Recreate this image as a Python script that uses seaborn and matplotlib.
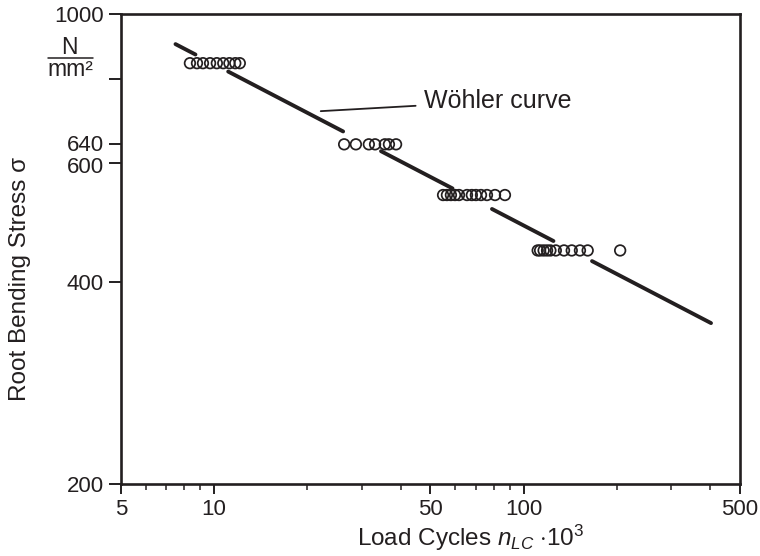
import numpy as np
import pandas as pd
import matplotlib
matplotlib.use("Agg")
import matplotlib.pyplot as plt
import matplotlib.transforms as mtransforms
import seaborn as sns
from matplotlib.ticker import FixedLocator, NullFormatter, FixedFormatter

sns.set_theme(style="white")
plt.rcParams['font.family'] = ['Liberation Sans', 'DejaVu Sans']
plt.rcParams['mathtext.fontset'] = 'custom'
plt.rcParams['mathtext.it'] = 'Liberation Sans:italic'
plt.rcParams['mathtext.rm'] = 'Liberation Sans'

# ---- data (load cycles in 10^3, stress in N/mm^2) ----
stress_levels = [845, 640, 538, 445]
cycles_845 = [8.35, 8.8, 9.2, 9.7, 10.2, 10.7, 11.2, 11.7, 12.1]
cycles_640 = [26.3, 28.7, 31.6, 33.1, 35.6, 36.7, 38.7]
cycles_538 = [54.9, 56.5, 58.2, 60.0, 61.8, 65.6, 68.0, 70.1, 72.8, 76.1, 80.8, 87.0]
cycles_445 = [111, 113, 116, 119, 122, 127, 135, 143, 152, 161, 205]

# Wöhler curve end points and the gaps where the curve is interrupted by the points
curve_cycles = [7.5, 403]
curve_stress = [902, 347]
curve_gaps = [(8.7, 11.1), (26.1, 34.6), (58.9, 79.0), (124.8, 166.3)]

x_major = [5, 10, 50, 100, 500]
x_minor = [6, 7, 8, 9, 20, 30, 40, 60, 70, 80, 90, 200, 300, 400]
y_ticks = [200, 400, 600, 640, 800, 1000]
y_labels = ['200', '400', '600', '640', '', '1000']

INK = '#231f20'

# ---- build tables ----
pts = pd.DataFrame({
    'cycles': cycles_845 + cycles_640 + cycles_538 + cycles_445,
    'stress': ([stress_levels[0]] * len(cycles_845) + [stress_levels[1]] * len(cycles_640)
               + [stress_levels[2]] * len(cycles_538) + [stress_levels[3]] * len(cycles_445)),
})

n0, n1 = curve_cycles
s0, s1 = curve_stress
slope = np.log(s1 / s0) / np.log(n1 / n0)
bounds = [n0] + [v for g in curve_gaps for v in g] + [n1]
rows = []
for i in range(0, len(bounds), 2):
    for n in (bounds[i], bounds[i + 1]):
        rows.append({'cycles': n, 'stress': s0 * (n / n0) ** slope, 'seg': i // 2})
curve = pd.DataFrame(rows)

# ---- figure ----
fig = plt.figure(figsize=(7.6, 5.56), dpi=100)
ax = fig.add_axes([121 / 760, 1 - 484 / 556, (740 - 121) / 760, (484 - 14) / 556])

sns.lineplot(data=curve, x='cycles', y='stress', units='seg', estimator=None,
             color=INK, lw=2.8, ax=ax, legend=False)
sns.scatterplot(data=pts, x='cycles', y='stress', ax=ax, s=58, marker='o',
                facecolor='none', edgecolor=INK, linewidth=1.25, zorder=3)

ax.set_xscale('log')
ax.set_yscale('log')
ax.set_xlim(5, 500)
ax.set_ylim(200, 1000)

ax.xaxis.set_major_locator(FixedLocator(x_major))
ax.xaxis.set_major_formatter(FixedFormatter([str(v) for v in x_major]))
ax.xaxis.set_minor_locator(FixedLocator(x_minor))
ax.xaxis.set_minor_formatter(NullFormatter())
ax.yaxis.set_major_locator(FixedLocator(y_ticks))
ax.yaxis.set_major_formatter(FixedFormatter(y_labels))
ax.yaxis.set_minor_locator(FixedLocator([]))
ax.yaxis.set_minor_formatter(NullFormatter())

ax.tick_params(axis='x', which='major', direction='out', length=7.5, width=1.4,
               color=INK, labelsize=16, labelcolor=INK, pad=3, bottom=True, top=False)
ax.tick_params(axis='y', which='major', direction='out', length=8.5, width=1.4,
               color=INK, labelsize=16, labelcolor=INK, pad=4, left=True, right=False)
ax.tick_params(axis='x', which='minor', direction='out', length=4.5, width=1.1,
               color=INK, bottom=True)
for sp in ax.spines.values():
    sp.set_visible(True)
    sp.set_color(INK)
    sp.set_linewidth(1.9)

ax.set_xlabel(r'Load Cycles $n_{LC}$ $\cdot$10$^3$', fontsize=17.5, color=INK)
ax.xaxis.set_label_coords((471 - 121) / 619, -(538 - 484) / 470, transform=ax.transAxes)
ax.xaxis.label.set_va('center')
ax.set_ylabel('Root Bending Stress σ', fontsize=17.5, color=INK)
ax.yaxis.set_label_coords(-(121 - 20) / 619, (484 - 279) / 470, transform=ax.transAxes)
ax.yaxis.label.set_va('center')

# unit label N/mm²
fig.text(69 / 760, 1 - 47 / 556, 'N', ha='center', va='center', fontsize=16.5, color=INK)
fig.text(70 / 760, 1 - 70 / 556, 'mm²', ha='center', va='center', fontsize=16.5, color=INK)
fig.add_artist(plt.Line2D([48 / 760, 93 / 760], [1 - 58 / 556, 1 - 58 / 556],
                          color=INK, lw=1.1))

ax.annotate('Wöhler curve', xy=(22.1, 717), xytext=(47.8, 742), fontsize=18,
            color=INK, ha='left', va='center',
            arrowprops=dict(arrowstyle='-', color=INK, lw=1.3,
                            shrinkA=4, shrinkB=0))

# nudge the two closely spaced labels (600 / 640) apart a little
fig.canvas.draw()
for tick in ax.yaxis.get_major_ticks():
    txt = tick.label1.get_text()
    if txt in ('600', '640'):
        dy = -1.3 if txt == '600' else 1.3
        tick.label1.set_transform(tick.label1.get_transform()
                                  + mtransforms.ScaledTranslation(0, dy / 72, fig.dpi_scale_trans))

fig.savefig('out.png', dpi=100)
